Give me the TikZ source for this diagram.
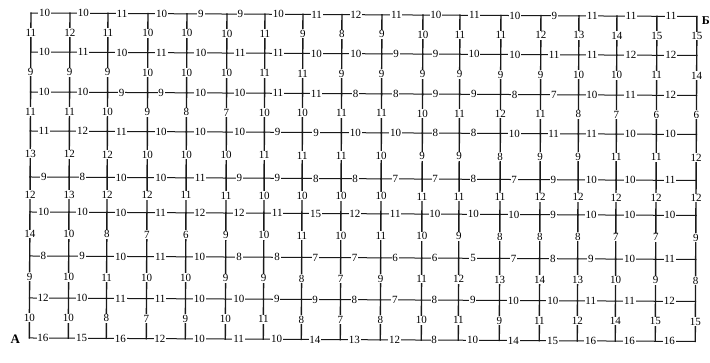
\documentclass[tikz,border=0pt]{standalone}
\usepackage{fontspec}
\setmainfont{Liberation Serif}
\usetikzlibrary{calc}
\tikzset{
  hline/.style={draw=black!90, line width=1pt, line cap=rect},
  vline/.style={draw=black!90, line width=1.4pt, line cap=rect},
  lbl/.style={fill=white, inner sep=0.8pt, text=black, font=\fontsize{11}{12}\selectfont},
  letter/.style={inner sep=0pt, text=black, font=\bfseries\fontsize{12}{13}\selectfont}
}
\newcommand\hrowX[2]{%
  \foreach \lab [count=\ci] in {#2} {%
    \pgfmathtruncatemacro\ck{\ci+1}%
    \draw[hline] (p-\ci-#1) -- node[lbl,pos=.35] (h-#1-\ci) {\lab} (p-\ck-#1);%
  }}
\newcommand\vrowX[2]{%
  \pgfmathtruncatemacro\nj{#1+1}%
  \foreach \lab [count=\ci] in {#2} {%
    \draw[vline] (p-\ci-#1) -- node[lbl] (v-#1-\ci) {\lab} (p-\ci-\nj);%
  }}
\begin{document}
\begin{tikzpicture}[x=1pt,y=1pt]
\useasboundingbox (0,0) rectangle (710,-362);
\begin{scope}[shift={(31,-13)}, rotate=-0.3]
  \foreach \xx [count=\i] in {0,39,77,117,156,196,234,272,311,351,392,429,470,510,548,586,626,666} {
    \foreach \yy [count=\j] in {0,39,79,118,164,199,243,285,325} {
      \coordinate (p-\i-\j) at (\xx,-\yy);
    }
  }
  % vertical edges
  \vrowX{1}{11,12,11,10,10,10,11,9,8,9,10,11,11,12,13,14,15,15}
  \vrowX{2}{9,9,9,10,10,10,11,11,9,9,9,9,9,9,10,10,11,14}
  \vrowX{3}{11,11,10,9,8,7,10,10,11,11,10,11,12,11,8,7,6,6}
  \vrowX{4}{13,12,12,10,10,10,11,11,11,10,9,9,8,9,9,11,11,12}
  \vrowX{5}{12,13,12,12,11,11,10,10,10,10,11,11,11,12,12,12,12,12}
  \vrowX{6}{14,10,8,7,6,9,10,11,10,11,10,9,8,8,8,7,7,9}
  \vrowX{7}{9,10,11,10,10,9,9,8,7,9,11,12,13,14,13,10,9,8}
  \vrowX{8}{10,10,8,7,9,10,11,8,7,8,10,11,9,11,12,14,15,15}
  % horizontal edges
  \hrowX{1}{10,10,11,10,9,9,10,11,12,11,10,11,10,9,11,11,11}
  \hrowX{2}{10,11,10,11,10,11,11,10,10,9,9,10,10,11,11,12,12}
  \hrowX{3}{10,10,9,9,10,10,11,11,8,8,9,9,8,7,10,11,12}
  \hrowX{4}{11,12,11,10,10,10,9,9,10,10,8,8,10,11,11,10,10}
  \hrowX{5}{9,8,10,10,11,9,9,8,8,7,7,8,7,9,10,10,11}
  \hrowX{6}{10,10,10,11,12,12,11,15,12,11,10,10,10,9,10,10,10}
  \hrowX{7}{8,9,10,11,10,8,8,7,7,6,6,5,7,8,9,10,11}
  \hrowX{8}{12,10,11,11,10,10,9,9,8,7,8,9,10,10,11,11,12}
  \hrowX{9}{16,15,16,12,10,11,10,14,13,12,8,10,14,15,16,16,16}
  \node[letter] (B) at ($(p-18-1)+(9,-4.5)$) {Б};
  \node[letter, font=\bfseries\fontsize{13}{14}\selectfont] (A) at ($(p-1-9)+(-14,-1)$) {А};
\end{scope}
\end{tikzpicture}
\end{document}
